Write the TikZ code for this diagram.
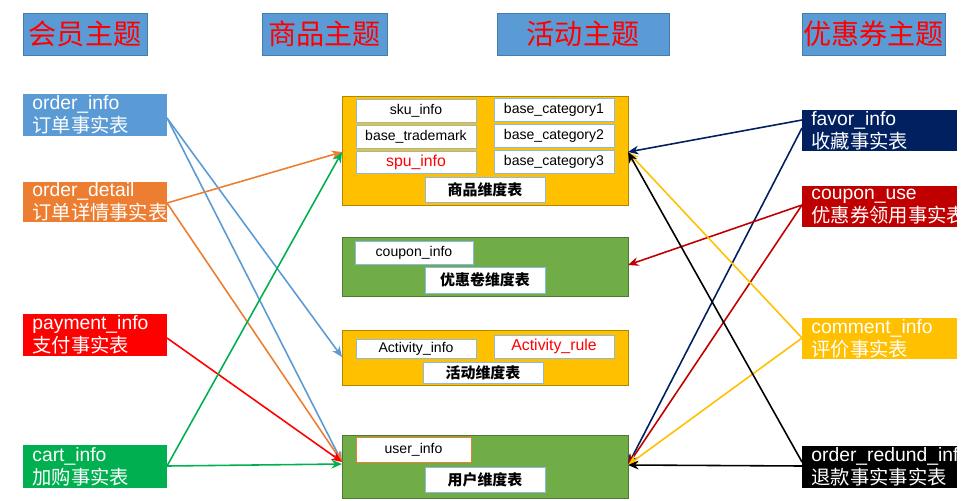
\documentclass[tikz,border=0pt]{standalone}
\usepackage{fontspec}
\usetikzlibrary{arrows.meta}
\setmainfont{Liberation Sans}
\newfontfamily\cjk{Noto Sans CJK SC}
\definecolor{cblue}{HTML}{5B9BD5}
\definecolor{corange}{HTML}{ED7D31}
\definecolor{cred}{HTML}{FF0000}
\definecolor{cgreen}{HTML}{00B050}
\definecolor{cnavy}{HTML}{002060}
\definecolor{cdred}{HTML}{C00000}
\definecolor{cgold}{HTML}{FFC000}
\definecolor{cleaf}{HTML}{70AD47}
\newcommand\factbox[6]{\fill[#5] (#1,#2) rectangle (#3,#4);
  \node[anchor=west,text=white,align=left,font=\fontsize{11}{13}\selectfont,inner sep=0pt] at (#1+9,{(#2+#4)/2}) {#6};}
\newcommand\subbox[6][]{\draw[sub,#1] (#2,#3) rectangle (#4,#5) node[midway,inner sep=0pt] {#6};}
\begin{document}
\begin{tikzpicture}[x=0.02cm,y=-0.02cm,
  hdr/.style={draw=cblue!80!black,fill=cblue},
  dim/.style={draw=#1!70!black,fill=#1},
  sub/.style={draw=cblue!70,fill=white,font=\fontsize{8}{10}\selectfont},
  dt/.style={font=\cjk\bfseries\fontsize{8.5}{10}\selectfont},
  lk/.style={draw=#1,line width=0.9pt,-{Stealth[length=6pt,width=5pt]}}]
\useasboundingbox (0,0) rectangle (972,500);
% headers
\foreach \x/\w/\t/\n in {23/147/会员主题/h1,262/387/商品主题/h2,497/669/活动主题/h3,802/945/优惠券主题/h4}{
  \path[hdr] (\x,13) rectangle (\w,55);
  \node[text=red,font=\cjk\fontsize{16}{18}\selectfont] (\n) at ({(\x+\w)/2},34) {\t};}
% fact boxes
\factbox{23}{94}{167}{136}{cblue}{order\_info\\{\cjk 订单事实表}}
\factbox{23}{182}{167}{222}{corange}{order\_detail\\{\cjk 订单详情事实表}}
\factbox{23}{314}{167}{356}{cred}{payment\_info\\{\cjk 支付事实表}}
\factbox{23}{445}{167}{488}{cgreen}{cart\_info\\{\cjk 加购事实表}}
\factbox{802}{110}{957}{151}{cnavy}{favor\_info\\{\cjk 收藏事实表}}
\factbox{802}{186}{957}{227}{cdred}{coupon\_use\\{\cjk 优惠券领用事实表}}
\factbox{802}{318}{957}{359}{cgold}{comment\_info\\{\cjk 评价事实表}}
\factbox{802}{446}{957}{488}{black}{order\_redund\_info\\{\cjk 退款事实事实表}}
% dimension boxes
\draw[dim=cgold] (342,96) rectangle (628,205);
\draw[dim=cleaf] (342,237) rectangle (628,296);
\draw[dim=cgold] (342,330) rectangle (628,385);
\draw[dim=cleaf] (342,435) rectangle (628,498);
\subbox{356}{99}{476}{122}{sku\_info}
\subbox{356}{125}{476}{148}{base\_trademark}
\subbox[text=red,font=\fontsize{9}{11}\selectfont]{356}{151}{476}{173}{spu\_info}
\subbox{494}{98}{614}{121}{base\_category1}
\subbox{494}{124}{614}{147}{base\_category2}
\subbox{494}{150}{614}{173}{base\_category3}
\subbox[dt]{425}{177}{545}{202}{商品维度表}
\subbox{355}{241}{473}{264}{coupon\_info}
\subbox[dt]{425}{267}{545}{293}{优惠卷维度表}
\subbox{356}{339}{476}{358}{Activity\_info}
\subbox[text=red,font=\fontsize{9}{11}\selectfont]{494}{335}{614}{358}{Activity\_rule}
\subbox[dt]{423}{362}{543}{383}{活动维度表}
\subbox[draw=corange]{356}{437}{471}{462}{user\_info}
\subbox[dt]{425}{467}{545}{492}{用户维度表}
% anchor points
\coordinate (oi) at (167,118); \coordinate (od) at (167,203);
\coordinate (pi) at (167,338); \coordinate (ci) at (167,466);
\coordinate (fv) at (802,120); \coordinate (fv2) at (802,128);
\coordinate (cu) at (802,205); \coordinate (cm) at (802,338);
\coordinate (rd) at (802,466); \coordinate (rd2) at (802,462);
\coordinate (pL) at (342,152); \coordinate (aL) at (342,357);
\coordinate (uL) at (342,462); \coordinate (uL2) at (342,464);
\coordinate (pR) at (628,152); \coordinate (cR) at (628,265);
\coordinate (uR) at (628,465);
% left links
\draw[lk=cblue] (oi) -- (aL); \draw[lk=cblue] (oi) -- (uL);
\draw[lk=corange] (od) -- (pL); \draw[lk=corange] (od) -- (uL);
\draw[lk=cred] (pi) -- (uL);
\draw[lk=cgreen] (ci) -- (pL); \draw[lk=cgreen] (ci) -- (uL2);
% right links
\draw[lk=cnavy] (fv) -- (pR); \draw[lk=cnavy] (fv2) -- (uR);
\draw[lk=cdred] (cu) -- (cR); \draw[lk=cdred] (cu) -- (uR);
\draw[lk=cgold] (cm) -- (pR); \draw[lk=cgold] (cm) -- (uR);
\draw[lk=black] (rd2) -- (pR); \draw[lk=black] (rd) -- (uR);
\end{tikzpicture}
\end{document}
